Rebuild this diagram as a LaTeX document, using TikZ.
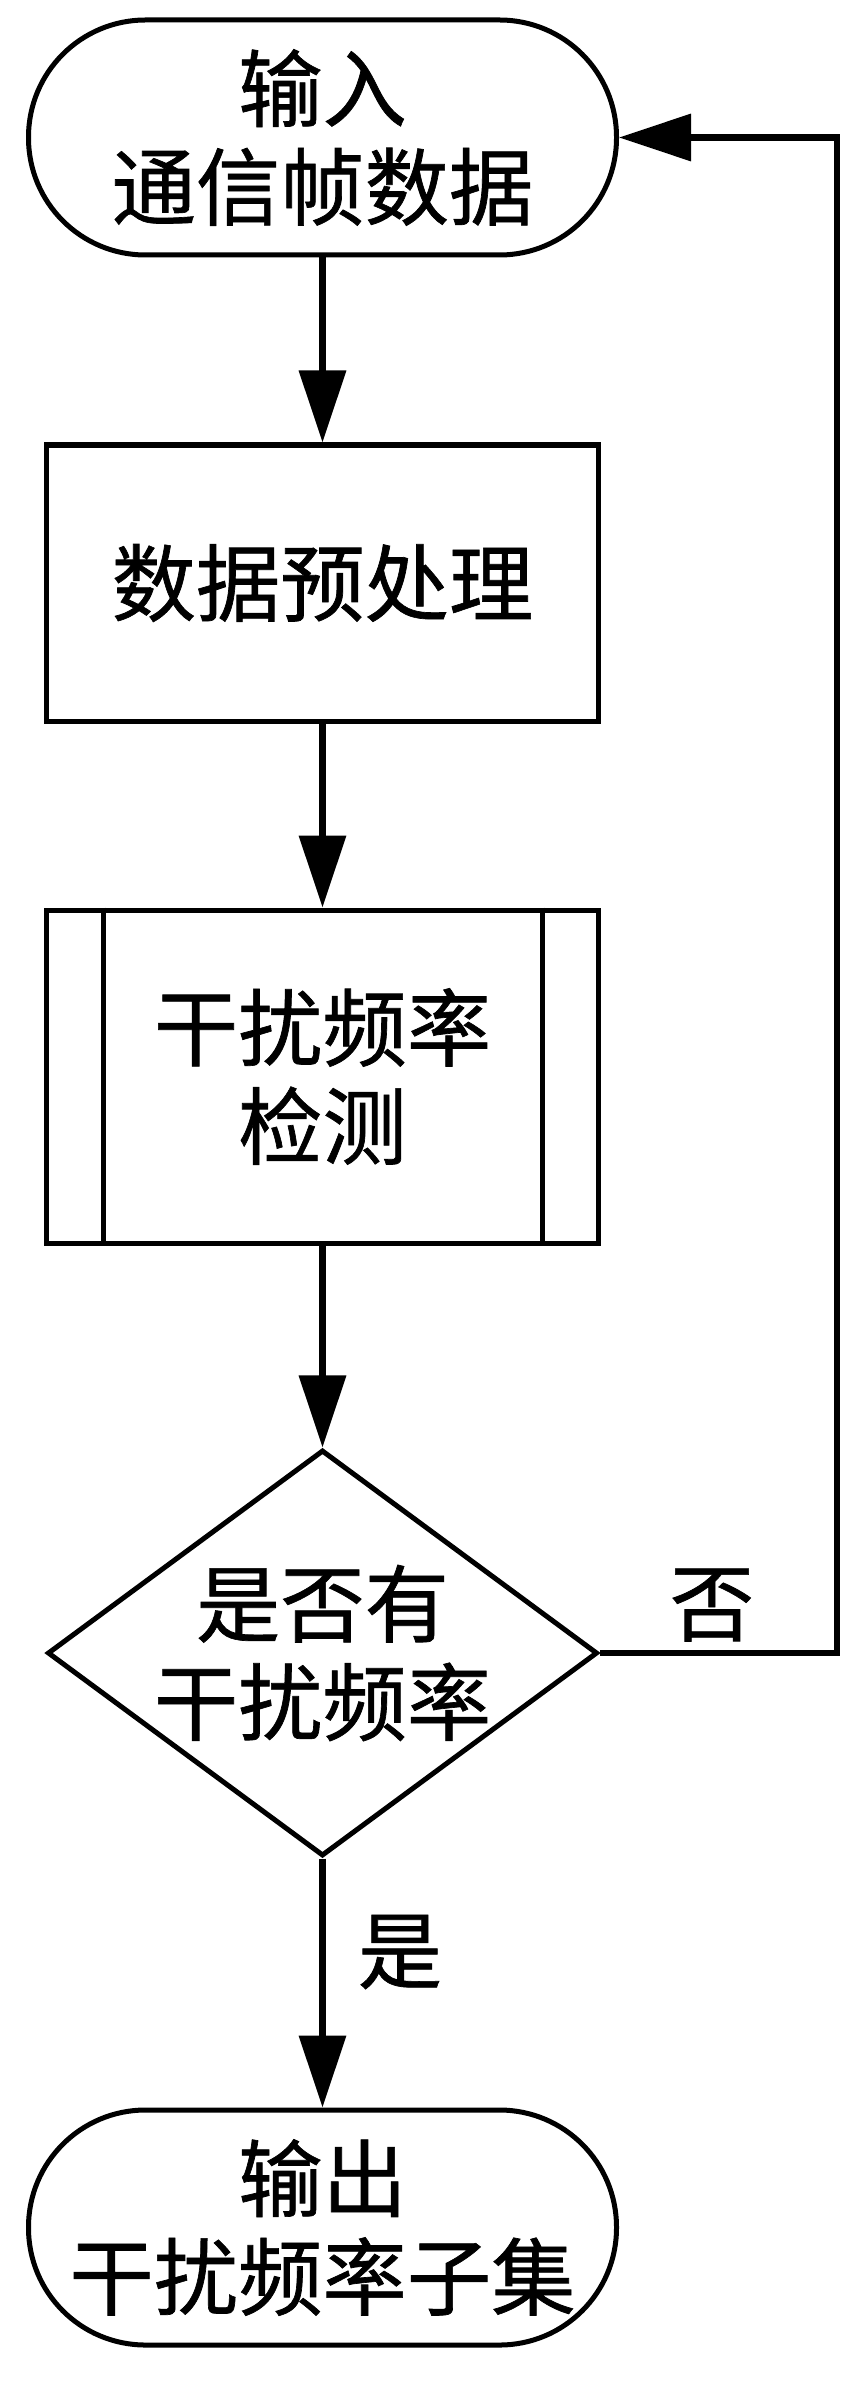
\documentclass[tikz,border=0pt]{standalone}
\usepackage{fontspec}
\setmainfont{Noto Sans CJK SC}[RawFeature={embolden=0.8}]
\usetikzlibrary{shapes.geometric, arrows.meta}
\tikzset{>={Triangle[length=0.72cm,width=0.46cm]}}

\begin{document}
\begin{tikzpicture}[
    every node/.style={font=\fontsize{24pt}{28pt}\selectfont},
    terminal/.style={draw, line width=0.05cm, rectangle, rounded corners=1.17cm, minimum width=5.88cm, minimum height=2.35cm, align=center},
    process/.style={draw, line width=0.05cm, rectangle, minimum width=5.52cm, minimum height=2.76cm, align=center},
    decision/.style={draw, line width=0.05cm, diamond, inner sep=0pt, minimum width=5.5cm, minimum height=4.06cm},
    flow/.style={->, line width=0.067cm}]
    \useasboundingbox (0,0) rectangle (8.48,-24.02);
    \node[terminal] (start) at (3.225,-1.375) {输入\\通信帧数据};
    \node[process] (prep) at (3.225,-5.83) {数据预处理};
    \node[process, minimum height=3.33cm] (detect) at (3.225,-10.765) {干扰频率\\检测};
    \draw[line width=0.05cm] ([xshift=0.59cm]detect.north west) -- ([xshift=0.59cm]detect.south west);
    \draw[line width=0.05cm] ([xshift=-0.59cm]detect.north east) -- ([xshift=-0.59cm]detect.south east);
    \node[decision, label={[align=center]center:是否有\\干扰频率}] (check) at (3.225,-16.53) {};
    \node[terminal] (out) at (3.225,-22.275) {输出\\干扰频率子集};
    \coordinate (loopB) at (8.37,-16.53);
    \coordinate (loopT) at (8.37,-1.375);
    \draw[flow] (start) -- (prep);
    \draw[flow] (prep) -- (detect);
    \draw[flow] (detect) -- (check);
    \draw[flow] (check) -- (out);
    \draw[flow] (check.east) -- (loopB) -- (loopT) -- (start.east);
    \node (no) at (7.12,-16.05) {否};
    \node (yes) at (4.00,-19.52) {是};
\end{tikzpicture}
\end{document}
